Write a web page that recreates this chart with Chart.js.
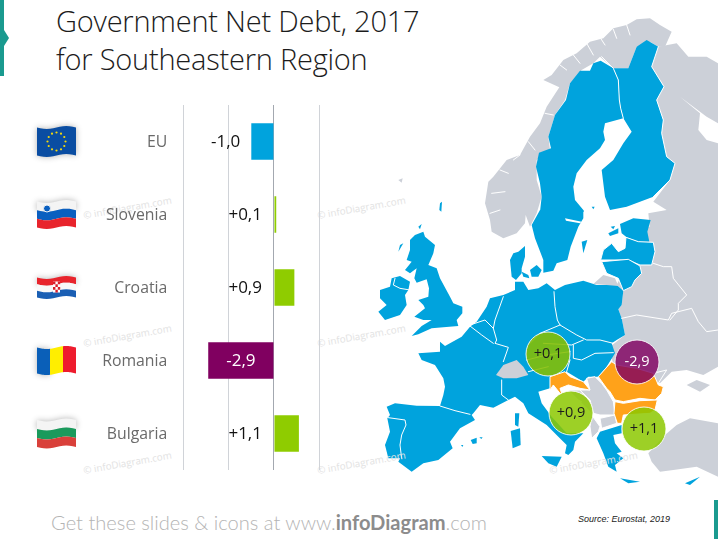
<!DOCTYPE html>
<html>
<head>
<meta charset="utf-8">
<title>Government Net Debt, 2017</title>
<script src="https://cdn.jsdelivr.net/npm/chart.js@4"></script>
<style>
  html, body { margin: 0; padding: 0; background: #fff; }
  #slide { position: relative; width: 718px; height: 539px; overflow: hidden; }
  #slide > * { position: absolute; }
  #map { left: 0; top: 0; }
  #myChart { left: 0; top: 0; }
  .title { left: 56px; font: 300 29px "Open Sans", sans-serif; letter-spacing: -0.22px; color: #1c1c1c; white-space: nowrap; line-height: 38px; }
  #footer { left: 51px; top: 510px; font: 300 20.1px Lato, sans-serif; color: #b4b4b4; white-space: nowrap; }
  #footer b { color: #8c8c8c; font-weight: 700; }
  #source { left: 578px; top: 514px; font: italic 9px "Liberation Sans", sans-serif; color: #222; white-space: nowrap; }
  .blue { fill: #00a3dd; }
  .grey { fill: #ccd0d8; }
  .orange { fill: #ffa21a; }
  .line { fill: none; stroke: #fff; stroke-width: 3; stroke-linejoin: round; stroke-linecap: round; }
  .edged { stroke: #fff; stroke-width: 3; stroke-linejoin: round; }
</style>
</head>
<body>
<div id="slide">
  <svg id="map" width="718" height="539" xmlns="http://www.w3.org/2000/svg">
    <!-- slide accents -->
    <path d="M0 0H4V30L9 38L4 46V76H0Z" fill="#1a9a8f"/>
    <rect x="714" y="500" width="4" height="39" fill="#1a9a8f"/>

    <g transform="translate(360,260) scale(0.33333)">
      <!-- grey east -->
      <path class="grey" d="M860 -100H1074V320L1030 345L980 330L935 335L900 370L760 320L750 260L795 225L785 175L775 148L785 135L790 92L770 75Z"/>

      <!-- scandinavia -->
      <g transform="translate(0,-780)">
        <path class="grey" d="M935 95L900 75L870 55L830 58L800 75L760 85L730 115L690 125L650 160L610 180L575 225L550 240L598 262L560 320L540 370L510 410L480 465L440 480L400 530L385 545L375 610L390 660L395 695L430 715L470 700L495 670L497 645L510 680L530 640L545 590L530 540L530 480L570 450L565 410L585 345L615 300L630 250L665 210L700 190L720 170L760 205L805 205L830 140L870 125L895 140L915 140Z"/>
        <path class="line" d="M640 165L660 190M680 130L700 165M720 112L735 135M760 88L770 115M800 75L810 105M600 195L620 210M555 340L580 345M505 425L525 450M460 480L480 465M420 510L445 520M395 580L435 575M390 640L420 630"/>
        <path class="grey" d="M895 140L950 130L985 170L1040 170L1074 190V810H870L870 690L865 640L920 630L880 605L930 540L945 490L920 470L905 400L910 360L890 300L912 260L875 200Z"/>
        <path fill="#fff" d="M960 290L1000 320L1040 350L1074 370V430L1040 420L1015 390L1020 340Z"/>
        <path class="blue" d="M722 182L700 190L690 212L660 212L630 250L618 300L585 345L565 410L573 445L537 458L528 500L540 550L545 590L540 635L672 635L670 630L645 600L640 560L650 520L680 480L720 445L735 420L730 395L735 370L790 355L782 325L778 300L775 240L760 205Z"/>
        <path class="blue" d="M725 170L760 205L805 205L830 140L860 120L895 140L875 200L912 260L890 300L910 360L905 400L920 470L945 490L930 540L880 590L800 620L750 630L735 590L725 510L760 480L790 430L815 395L790 355L782 325L778 300L775 240L760 205Z"/>
        <path class="line" d="M725 170L760 205L775 240L778 300L782 325L790 355M895 140L875 200L912 260L890 300L910 360L905 400L920 470L945 490L930 540L880 590"/>
        <path class="blue" d="M240 610L246 605L244 635L238 630Z"/>
        <path class="grey" d="M115 540L128 535L125 548Z"/>
        <path class="blue" d="M695 620L704 620L700 628Z"/>
      </g>

      <!-- mainland eu -->
      <path class="blue" d="M175 280L240 275L240 245L255 258L305 230L330 200L350 185L380 140L390 115L430 105L465 90L465 65L490 65L505 90L535 85L560 70L585 90L615 75L670 62L710 75L770 75L790 92L785 135L775 148L785 175L795 225L770 240L755 250L765 280L740 320L715 350L685 350L670 365L620 335L570 350L570 385L535 395L545 430L575 470L620 520L670 520L645 545L640 570L625 585L615 580L620 555L595 530L560 495L505 460L490 430L465 410L445 420L400 443L360 435L340 460L335 465L345 480L300 505L270 545L278 565L235 600L190 610L155 635L115 605L120 595L85 595L75 555L90 515L82 475L90 465L80 440L105 430L170 437L240 438L250 405L255 380L250 355L225 315L185 300Z"/>

      <!-- sweden's south, denmark (crop at 480,210) -->
      <g transform="translate(360,-150)">
        <path class="blue" d="M180 0L155 45L165 85L190 150L190 188L220 182L230 160L262 150L272 110L295 50L310 25V0Z"/>
        <path fill="#fff" d="M255 25L305 35L300 40L258 32Z"/>
        <path class="blue" d="M100 130L115 125L135 108L135 140L125 175L125 190L108 210L95 200L92 170L90 150Z"/>
        <path class="blue" d="M125 185L145 195L148 205L130 200Z"/>
        <path class="blue" d="M150 180L170 165L185 180L175 200L155 200Z"/>
        <path class="blue" d="M305 95L322 90L310 130Z"/>
      </g>

      <!-- britain, ireland (crop at 375,240) -->
      <g transform="translate(45,-60)">
        <path class="blue" d="M105 0L120 -15L145 -25L150 -10L180 15L175 40L160 75L185 85L195 115L225 170L235 190L262 200L262 220L245 240L250 258L205 262L170 265L130 283L110 288L140 258L170 240L145 240L118 230L150 205L145 195L130 180L160 170L162 145L155 118L125 128L118 115L125 85L105 100L90 90L110 65L95 60L105 30Z"/>
        <path class="blue" d="M15 150L45 140L50 115L75 108L105 125L100 150L90 165L95 195L75 225L30 240L10 215L35 195L15 175Z"/>
        <path class="line" d="M60 115L55 135L75 145L105 150"/>
        <path class="blue" d="M75 15L85 10L70 35Z"/>
        <path class="blue" d="M130 -40L140 -48L135 -32Z"/>
      </g>

      <!-- borders -->
      <path class="line" d="M240 438L285 452L330 463M85 473L135 480L138 495L125 525L120 555L125 595"/>
      <path class="line" d="M330 198L365 225L400 250M330 195L375 180L400 205L405 180L430 110M400 205L410 240L405 250L445 262L430 305"/>
      <path class="line" d="M425 360L425 405L445 420"/>
      <path class="line" d="M582 95L585 140L592 180L600 195L650 225L680 240L720 240L760 250M540 220L600 195M510 250L540 220M550 250L635 255L670 240M500 300L560 285L630 275M640 255L640 295L665 300L705 280L760 278M630 300L620 335M505 335L565 320"/>

      <!-- switzerland, med islands (crop at 380,345) -->
      <g transform="translate(60,255)">
        <path class="grey" d="M348 90L370 60L410 45L430 65L445 90L410 100L370 100Z"/>
        <path class="blue" d="M405 205L418 205L415 245L405 240Z"/>
        <path class="blue" d="M392 258L420 250L422 300L398 310Z"/>
        <path class="blue" d="M272 285L290 278L290 295L278 297Z"/>
        <path class="blue" d="M243 300L250 300L247 306Z"/>
        <path class="blue" d="M298 277L308 277L304 282Z"/>
      </g>

      <!-- south east (crop at 540,330) -->
      <g transform="translate(540,210)">
        <path class="blue" d="M5 378L65 380L50 410L25 400Z"/>
        <path class="grey edged" d="M140 145L165 140L185 160L200 180L220 215L225 255L180 255L160 250L150 210L120 180L150 180Z"/>
        <path class="grey edged" d="M85 180L120 180L150 215L155 250L130 225Z"/>
        <path class="grey edged" d="M155 255L180 290L175 305L155 325L150 290Z"/>
        <path class="grey edged" d="M180 265L225 255L230 280L185 295Z"/>
        <path class="blue" d="M170 325L180 305L245 285L245 310L220 315L225 340L245 365L230 370L250 385L225 405L230 425L205 410L190 370Z"/>
        <path class="blue" d="M240 445L300 455L265 460Z"/>
        <path class="blue" d="M435 460L480 440L450 465Z"/>
        <path class="grey" d="M325 370L375 315L410 285L450 265L534 280V440L470 410L400 420L360 425L335 395Z"/>
        <path class="grey" d="M440 165L470 150L510 165L480 185Z"/>
        <path class="orange edged" d="M175 140L215 95L230 105L290 115L340 130L355 165L370 170L365 190L345 210L300 205L250 215L225 210L210 185L200 175Z"/>
        <path class="orange edged" d="M225 215L250 220L300 212L352 210L345 240L330 250L250 255L245 280L232 280L222 250Z"/>
        <path class="orange edged" d="M30 140L75 125L90 140L130 155L150 180L120 175L85 165L60 175L65 190L110 210L125 215L60 190L40 165L30 180Z"/>
        <path class="line" d="M340 130L380 120L355 160"/>
      </g>

      <!-- baltics, belarus lines (crop at 590,210) -->
      <g transform="translate(690,-150)">
        <path class="grey" d="M10 222L40 195L75 205L85 228L50 225Z"/>
        <path class="blue" d="M90 42L130 25L182 30L172 65L178 95L145 95L110 82L95 70Z"/>
        <path class="blue edged" d="M32 150L40 120L65 100L85 125L105 115L108 82L145 95L190 97L195 125L185 165L150 165L115 150L45 150Z"/>
        <path class="blue edged" d="M35 155L115 148L150 168L155 190L135 210L125 230L100 242L85 205L50 190Z"/>
        <path class="blue" d="M55 70L85 55L85 70L60 78Z"/>
        <path class="blue" d="M62 50L75 48L70 58Z"/>
        <path class="line" d="M190 160L220 170L245 170L250 205L290 255L265 280L265 300L240 330M95 325L140 315L235 330L245 310L305 295L325 335L350 365L384 360"/>
      </g>
    </g>

    <!-- watermarks -->
    <g font-family="Open Sans" font-size="9.8" fill="#e2e2e2">
      <text transform="translate(84,219) rotate(-10)">© infoDiagram.com</text>
      <text transform="translate(84,347) rotate(-10)">© infoDiagram.com</text>
      <text transform="translate(84,474) rotate(-10)">© infoDiagram.com</text>
      <text transform="translate(318,219) rotate(-10)">© infoDiagram.com</text>
      <text transform="translate(318,347) rotate(-10)">© infoDiagram.com</text>
      <text transform="translate(318,474) rotate(-10)">© infoDiagram.com</text>
      <text transform="translate(550,474) rotate(-10)">© infoDiagram.com</text>
    </g>
  </svg>
  <div class="title" style="top:2px">Government Net Debt, 2017</div>
  <div class="title" style="top:40px">for Southeastern Region</div>
  <div id="footer">Get these slides &amp; icons at www.<b>infoDiagram</b>.com</div>
  <div id="source">Source: Eurostat, 2019</div>
  <canvas id="myChart" width="718" height="539"></canvas>
</div>
<script>
const countries = ["EU", "Slovenia", "Croatia", "Romania", "Bulgaria"];
const netDebt = [-1.0, 0.1, 0.9, -2.9, 1.1];
const barColors = ["#00a3dd", "#8fcc00", "#8fcc00", "#800060", "#8fcc00"];
const xTicks = [-4, -2, 0, 2];

// where the value circles sit on the map (no circle for EU)
const mapCircles = [
  { country: "Slovenia", x: 548, y: 354, fill: "rgba(134,190,0,0.88)", text: "#1c1c1c" },
  { country: "Croatia", x: 571, y: 413, fill: "rgba(140,200,0,0.85)", text: "#1c1c1c" },
  { country: "Romania", x: 637, y: 362, fill: "rgba(128,0,96,0.82)", text: "#fff" },
  { country: "Bulgaria", x: 644, y: 429, fill: "rgba(140,200,0,0.85)", text: "#1c1c1c" },
];

const flags = {
  EU: { h: 28, dir: "h", stripes: ["#0a4da2"] },
  Slovenia: { h: 26, dir: "h", stripes: ["#f4f4f4", "#0a5fc0", "#e8242c"] },
  Croatia: { h: 20, dir: "h", stripes: ["#e8242c", "#f8f8f8", "#1a5fb4"] },
  Romania: { h: 26, dir: "v", stripes: ["#0a5fb8", "#ffee00", "#ee1c2e"] },
  Bulgaria: { h: 27, dir: "h", stripes: ["#f4f4f4", "#1a9a5c", "#d9403a"] },
};

function fmt(v) {
  return (v > 0 ? "+" : "-") + Math.abs(v).toFixed(1).replace(".", ",");
}

function wave(t) {
  return 1.5 * Math.sin(t * Math.PI * 2);
}

function drawFlag(ctx, name, cy) {
  const f = flags[name];
  const left = 37, w = 39, top = cy - f.h / 2;
  ctx.save();
  ctx.shadowColor = "rgba(0,0,0,0.3)";
  ctx.shadowBlur = 6;
  const n = f.stripes.length;
  f.stripes.forEach((color, i) => {
    ctx.beginPath();
    const y0 = f.dir === "h" ? top + (f.h * i) / n : top;
    const y1 = f.dir === "h" ? top + (f.h * (i + 1)) / n : top + f.h;
    const x0 = f.dir === "v" ? left + (w * i) / n : left;
    const x1 = f.dir === "v" ? left + (w * (i + 1)) / n : left + w;
    for (let s = 0; s <= 12; s++) {
      const x = x0 + ((x1 - x0) * s) / 12;
      ctx.lineTo(x, y0 + wave((x - left) / w));
    }
    for (let s = 12; s >= 0; s--) {
      const x = x0 + ((x1 - x0) * s) / 12;
      ctx.lineTo(x, y1 + wave((x - left) / w));
    }
    ctx.closePath();
    ctx.fillStyle = color;
    ctx.fill();
    ctx.shadowColor = "transparent";
  });
  ctx.restore();

  if (name === "EU") {
    ctx.fillStyle = "#f5d90a";
    for (let i = 0; i < 12; i++) {
      const a = (i * Math.PI) / 6;
      ctx.beginPath();
      ctx.arc(left + w / 2 + 9 * Math.cos(a), cy + 9 * Math.sin(a), 1.1, 0, Math.PI * 2);
      ctx.fill();
    }
  }
  if (name === "Slovenia") {
    ctx.fillStyle = "#0a5fc0";
    ctx.strokeStyle = "#f4f4f4";
    ctx.beginPath();
    ctx.arc(47, cy - 6, 3.5, 0, Math.PI * 2);
    ctx.fill();
    ctx.stroke();
  }
  if (name === "Croatia") {
    ctx.fillStyle = "#fff";
    ctx.fillRect(53, cy - 6, 7, 11);
    ctx.fillStyle = "#d8202c";
    for (let r = 0; r < 4; r++) {
      for (let c = 0; c < 3; c++) {
        if ((r + c) % 2 === 0) ctx.fillRect(53 + c * 2.4, cy - 6 + r * 2.75, 2.4, 2.75);
      }
    }
  }
}

const slidePlugin = {
  id: "slidePlugin",
  afterDatasetsDraw(chart) {
    const ctx = chart.ctx;
    const y = chart.scales.y;
    const x = chart.scales.x;
    const bars = chart.getDatasetMeta(0).data;

    countries.forEach((name, i) => drawFlag(ctx, name, y.getPixelForValue(i)));

    // value next to each bar, or inside it when it is long enough
    ctx.save();
    ctx.font = "17px 'Open Sans'";
    ctx.textBaseline = "middle";
    netDebt.forEach((v, i) => {
      const by = bars[i].y + 1;
      if (v < -2) {
        ctx.fillStyle = "#fff";
        ctx.textAlign = "center";
        ctx.fillText(fmt(v), (bars[i].x + bars[i].base) / 2, by);
      } else if (v < 0) {
        ctx.fillStyle = "#111";
        ctx.textAlign = "right";
        ctx.fillText(fmt(v), x.getPixelForValue(v) - 11, by);
      } else {
        ctx.fillStyle = "#111";
        ctx.textAlign = "right";
        ctx.fillText(fmt(v), x.getPixelForValue(0) - 12, by);
      }
    });

    ctx.textAlign = "center";
    ctx.font = "14.5px 'Open Sans'";
    mapCircles.forEach((c) => {
      ctx.beginPath();
      ctx.arc(c.x, c.y, 22, 0, Math.PI * 2);
      ctx.fillStyle = c.fill;
      ctx.fill();
      ctx.strokeStyle = "rgba(255,255,255,0.85)";
      ctx.lineWidth = 1;
      ctx.stroke();
      ctx.fillStyle = c.text;
      ctx.fillText(fmt(netDebt[countries.indexOf(c.country)]), c.x, c.y);
    });
    ctx.restore();
  },
};

new Chart(document.getElementById("myChart"), {
  type: "bar",
  data: {
    labels: countries,
    datasets: [
      {
        label: "Government Net Debt, 2017",
        data: netDebt,
        backgroundColor: barColors,
        categoryPercentage: 0.5,
        barPercentage: 1,
      },
    ],
  },
  options: {
    indexAxis: "y",
    responsive: false,
    animation: false,
    layout: { padding: { top: 105, bottom: 69, right: 398.7, left: 0 } },
    plugins: { legend: { display: false }, tooltip: { enabled: false } },
    scales: {
      x: {
        min: xTicks[0],
        max: xTicks[xTicks.length - 1],
        afterBuildTicks: (axis) => {
          axis.ticks = xTicks.map((v) => ({ value: v }));
        },
        afterFit: (axis) => {
          axis.height = 0;
        },
        ticks: { display: false },
        border: { display: false },
        grid: {
          drawTicks: false,
          color: (c) => (c.tick.value === 0 ? "#a3a8b0" : "#d0d3d8"),
          lineWidth: 1,
        },
      },
      y: {
        afterFit: (axis) => {
          axis.width = 183.3;
        },
        border: { display: false },
        grid: { display: false, drawTicks: false },
        ticks: {
          padding: 16,
          labelOffset: 1,
          color: "#6a6a6a",
          font: { family: "'Open Sans'", size: 15.8 },
        },
      },
    },
  },
  plugins: [slidePlugin],
});
</script>
</body>
</html>
